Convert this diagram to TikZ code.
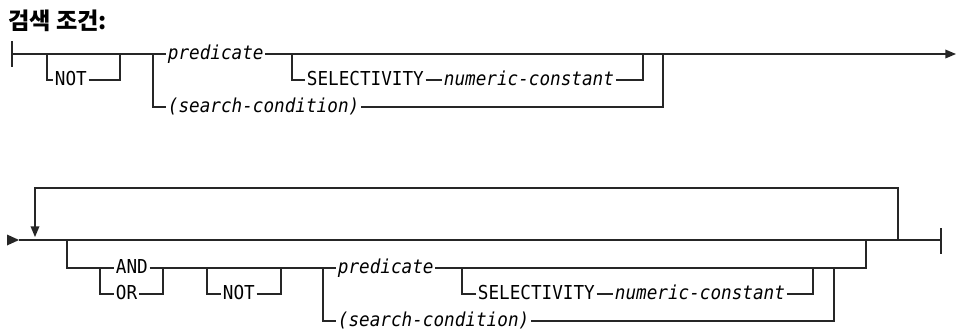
\documentclass[tikz,border=0pt]{standalone}
\usepackage{fontspec}
\usepackage{xcolor}
\usepackage{tikz}
\usetikzlibrary{arrows.meta}
\newfontfamily\railfont[FakeStretch=0.92]{DejaVu Sans Mono}
\newfontfamily\krfont{Noto Sans CJK KR}
\definecolor{RailInk}{HTML}{262626}
\tikzset{
        rail/.style={RailInk, line width=1pt},
        railtip/.style={-{Triangle[length=8pt,width=6.5pt]}},
        kw/.style={inner sep=0pt, inner xsep=1.2pt, text height=9pt, text depth=1.5pt, anchor=west,
                font=\railfont\fontsize{14.4pt}{17pt}\selectfont},
        var/.style={kw, font=\railfont\itshape\fontsize{14.4pt}{17pt}\selectfont}
}

\begin{document}
\begin{tikzpicture}[x=0.75pt, y=-0.75pt]
        \useasboundingbox (0,0) rectangle (960,330);
        \node[anchor=base west, inner sep=0pt, font=\krfont\bfseries\fontsize{17.4pt}{19pt}\selectfont] (title) at (8,29) {검색 조건:};

        % first line
        \coordinate (s1) at (12,54);
        \coordinate (a1) at (47,54);
        \coordinate (b1) at (120,54);
        \coordinate (c1) at (153,54);
        \coordinate (d1) at (292,54);
        \coordinate (f1) at (643,54);
        \coordinate (g1) at (663,54);
        \coordinate (e1) at (956,54);
        \node[kw] (not1) at (53,80) {NOT};
        \node[var] (pred1) at (166,54) {predicate};
        \node[var] (srch1) at (166,107) {(search-condition)};
        \node[kw] (sel1) at (305,80) {SELECTIVITY};
        \node[var] (num1) at (442,80) {numeric-constant};

        \draw[rail] (12,41) -- (12,67);
        \draw[RailInk, line width=2.2pt] (19,54) -- (27,54);
        \draw[rail] (s1) -- (pred1.west);
        \draw[rail, railtip] (pred1.east) -- (e1);
        \draw[rail] (a1) |- (not1.west);
        \draw[rail] (not1.east) -| (b1);
        \draw[rail] (c1) |- (srch1.west);
        \draw[rail] (srch1.east) -| (g1);
        \draw[rail] (d1) |- (sel1.west);
        \draw[rail] (sel1.east) -- (num1.west);
        \draw[rail] (num1.east) -| (f1);

        % second line
        \coordinate (s2) at (19,240);
        \coordinate (lq) at (35,240);
        \coordinate (a2) at (67,240);
        \coordinate (h2) at (100,268);
        \coordinate (i2) at (163,268);
        \coordinate (k2) at (207,268);
        \coordinate (m2) at (281,268);
        \coordinate (n2) at (323,268);
        \coordinate (p2) at (462,268);
        \coordinate (q2) at (813,268);
        \coordinate (r2) at (834,268);
        \coordinate (z2) at (866,240);
        \coordinate (lp) at (898,240);
        \coordinate (lt) at (466,188);
        \coordinate (e2) at (941,240);
        \node[kw] (and2) at (114,268) {AND};
        \node[kw] (or2) at (114,294) {OR};
        \node[kw] (not2) at (221,294) {NOT};
        \node[var] (pred2) at (336,268) {predicate};
        \node[var] (srch2) at (336,321) {(search-condition)};
        \node[kw] (sel2) at (476,294) {SELECTIVITY};
        \node[var] (num2) at (613,294) {numeric-constant};

        \fill[RailInk] (7,234.5) -- (19,240) -- (7,245.5) -- cycle;
        \draw[rail] (s2) -- (e2);
        \draw[RailInk, line width=2.2pt] (903,240) -- (924,240);
        \draw[rail] (941,228) -- (941,254);
        \draw[rail, railtip, shorten >=2.25pt] (lp) |- (lt) -| (lq);
        \draw[rail] (a2) |- (and2.west);
        \draw[rail] (h2) |- (or2.west);
        \draw[rail] (or2.east) -| (i2);
        \draw[rail] (and2.east) -- (pred2.west);
        \draw[rail] (k2) |- (not2.west);
        \draw[rail] (not2.east) -| (m2);
        \draw[rail] (pred2.east) -| (z2);
        \draw[rail] (n2) |- (srch2.west);
        \draw[rail] (srch2.east) -| (r2);
        \draw[rail] (p2) |- (sel2.west);
        \draw[rail] (sel2.east) -- (num2.west);
        \draw[rail] (num2.east) -| (q2);
\end{tikzpicture}
\end{document}
